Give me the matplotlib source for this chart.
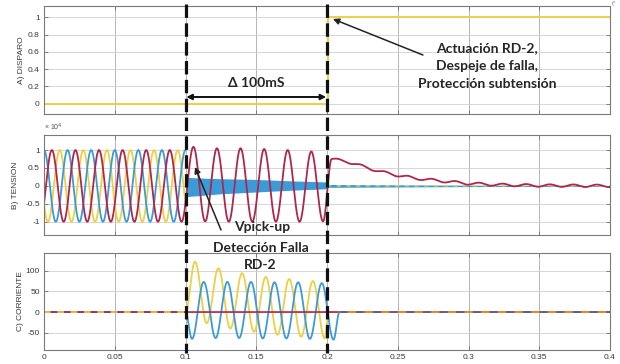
import numpy as np
import matplotlib
matplotlib.use("Agg")
import matplotlib.pyplot as plt
from matplotlib.ticker import FuncFormatter

plt.rcParams['axes.unicode_minus'] = False
plt.rcParams['font.family'] = ['Liberation Sans', 'DejaVu Sans']

# ---------------- data ----------------
FREQ = 60.0                      # Hz
T_FAULT = 0.1
T_CLEAR = 0.2
V_AMP = 1e4                      # pre-fault voltage peak
PHASE_DEG = {'blue': 0.0, 'red': -120.0, 'yellow': 120.0}

# A) trip signal
TRIP_T = [0.0, 0.201, 0.201, 0.4]
TRIP_V = [0.0, 0.0, 1.0, 1.0]

# B) red-phase voltage extrema during the fault (x1e4)
RED_V_T = [0.0972, 0.1056, 0.1139, 0.1222, 0.1306, 0.1389, 0.1472, 0.1556,
           0.1639, 0.1722, 0.1806, 0.1889, 0.1972, 0.2033]
RED_V = [-1.0, 1.09, -0.99, 1.05, -1.0, 1.05, -1.0, 1.03,
         -1.0, 1.0, -1.0, 0.96, -0.99, 0.75]
# red voltage decay after clearing (x1e4)
RED_DECAY_T = [0.2033, 0.214, 0.2257, 0.2375, 0.2493, 0.261, 0.275, 0.2987, 0.3223, 0.35, 0.4]
RED_DECAY_V = [0.75, 0.68, 0.54, 0.40, 0.30, 0.22, 0.16, 0.07, 0.03, 0.01, 0.0]
RED_RIPPLE = 0.035
# faulted blue/yellow voltage band (x1e4)
BAND_T = [0.1, 0.11, 0.125, 0.15, 0.175, 0.2]
BAND_HI = [0.24, 0.22, 0.20, 0.18, 0.14, 0.11]
BAND_LO = [-0.30, -0.27, -0.22, -0.17, -0.12, -0.08]
BAND2_T = [0.2, 0.25, 0.3, 0.35, 0.4]
BAND2_HI = [0.04, 0.03, 0.02, 0.015, 0.01]
BAND2_LO = [-0.04, -0.03, -0.02, -0.015, -0.01]

# C) fault currents (extrema)
YEL_I_T = [0.1, 0.1067, 0.115, 0.1233, 0.1317, 0.14, 0.1484, 0.1567, 0.165,
           0.1733, 0.1817, 0.19, 0.1984, 0.2012]
YEL_I = [0, 122, -27, 106, -40, 94, -48, 85, -55, 80, -60, 75, -64, 0]
BLU_I_T = [0.1, 0.1046, 0.1129, 0.1213, 0.1296, 0.1379, 0.1463, 0.1546, 0.1629,
           0.1713, 0.1796, 0.1879, 0.1963, 0.2046, 0.2088]
BLU_I = [0, -65, 73, -63, 73, -63, 73, -64, 72, -64, 72, -65, 70, -67, 0]

X_TICKS = [0, 0.05, 0.1, 0.15, 0.2, 0.25, 0.3, 0.35, 0.4]
A_TICKS = [0, 0.2, 0.4, 0.6, 0.8, 1]
B_TICKS = [-1e4, -0.5e4, 0, 0.5e4, 1e4]
C_TICKS = [-50, 0, 50, 100]

BLUE = '#3b9bd8'
RED = '#b0264c'
YEL = '#eecf45'


def halfcos(tt, kt, kv):
    kt = np.asarray(kt, float)
    kv = np.asarray(kv, float)
    i = np.clip(np.searchsorted(kt, tt, side='right') - 1, 0, len(kt) - 2)
    s = np.clip((tt - kt[i]) / (kt[i + 1] - kt[i]), 0, 1)
    return kv[i] + (kv[i + 1] - kv[i]) * (1 - np.cos(np.pi * s)) / 2


t = np.linspace(0, 0.4, 16001)
w = 2 * np.pi * FREQ

# voltages
pre = t <= T_FAULT
v_blue = V_AMP * np.cos(w * t + np.radians(PHASE_DEG['blue']))
v_yel = V_AMP * np.cos(w * t + np.radians(PHASE_DEG['yellow']))
v_red = V_AMP * np.cos(w * t + np.radians(PHASE_DEG['red']))
mid = (t >= RED_V_T[0]) & (t <= RED_V_T[-1])
v_red[mid] = V_AMP * halfcos(t[mid], RED_V_T, RED_V)
late = t > RED_V_T[-1]
v_red[late] = V_AMP * (np.interp(t[late], RED_DECAY_T, RED_DECAY_V)
                       + RED_RIPPLE * np.sin(w * (t[late] - RED_DECAY_T[0])))

tf = t[(t >= T_FAULT) & (t <= T_CLEAR)]
tc = t[t >= T_CLEAR]

# currents
i_yel = np.zeros_like(t)
i_blu = np.zeros_like(t)
i_red = np.zeros_like(t)
m = (t >= YEL_I_T[0]) & (t <= YEL_I_T[-1])
i_yel[m] = halfcos(t[m], YEL_I_T, YEL_I)
m = (t >= BLU_I_T[0]) & (t <= BLU_I_T[-1])
i_blu[m] = halfcos(t[m], BLU_I_T, BLU_I)

# ---------------- figure ----------------
W, H = 620, 364
fig = plt.figure(figsize=(W / 100, H / 100), dpi=100)
L = 44 / W
AW = 566 / W
axA = fig.add_axes([L, 1 - 114 / H, AW, 108 / H])
axB = fig.add_axes([L, 1 - 235 / H, AW, 100 / H])
axC = fig.add_axes([L, 1 - 350 / H, AW, 97 / H])


def style(ax, bottom_labels=False):
    ax.set_xlim(0, 0.4)
    ax.set_xticks(X_TICKS)
    ax.xaxis.set_major_formatter(FuncFormatter(lambda v, p: f'{v:g}'))
    ax.tick_params(direction='in', length=3, width=0.6, color='#707070',
                   labelcolor='#3a3a3a', labelsize=6, top=True, right=True, pad=3,
                   labelbottom=bottom_labels)
    for s in ax.spines.values():
        s.set_color('#7a7a7a')
        s.set_linewidth(0.8)
    ax.grid(axis='x', color='#aaaaaa', lw=0.6)
    ax.grid(axis='y', color='#d0d0d0', lw=0.6)
    ax.set_axisbelow(True)


# A
style(axA)
axA.plot(TRIP_T, TRIP_V, color=YEL, lw=1.4)
axA.set_ylim(-0.12, 1.13)
axA.set_yticks(A_TICKS)
axA.yaxis.set_major_formatter(FuncFormatter(lambda v, p: f'{v:g}'))
axA.set_ylabel('A) DISPARO', fontsize=6, color='#3a3a3a')
axA.yaxis.set_label_coords(-0.033, 0.5)

# B
style(axB)
axB.plot(t[pre], v_yel[pre], color=YEL, lw=1.3)
axB.plot(t[pre], v_blue[pre], color=BLUE, lw=1.3)
axB.fill_between(tf, V_AMP * np.interp(tf, BAND_T, BAND_LO),
                 V_AMP * np.interp(tf, BAND_T, BAND_HI), color=BLUE, lw=0)
axB.fill_between(tc, V_AMP * np.interp(tc, BAND2_T, BAND2_LO),
                 V_AMP * np.interp(tc, BAND2_T, BAND2_HI), color=BLUE, lw=0)
axB.plot(tc, np.zeros_like(tc), color=YEL, lw=1.0, ls=(0, (3, 4)))
axB.plot(t, v_red, color=RED, lw=1.3)
axB.set_ylim(-1.37e4, 1.42e4)
axB.set_yticks(B_TICKS)
axB.yaxis.set_major_formatter(FuncFormatter(lambda v, p: f'{v / 1e4:g}'))
axB.set_ylabel('B) TENSION', fontsize=6, color='#3a3a3a')
axB.yaxis.set_label_coords(-0.045, 0.5)
axB.text(0.0, 1.02, '× 10$^{4}$', transform=axB.transAxes, fontsize=5,
         color='#555555', ha='left', va='bottom')

# C
style(axC, bottom_labels=True)
axC.plot(t, i_yel, color=YEL, lw=1.3)
axC.plot(t, i_blu, color=BLUE, lw=1.3)
axC.plot(t, i_red, color=RED, lw=1.2)
pz = t <= T_FAULT
axC.plot(t[pz], i_yel[pz], color=YEL, lw=1.2, ls=(0, (4, 4)))
cz = t >= 0.2088
axC.plot(t[cz], i_red[cz], color='#e88a25', lw=1.4)
axC.plot(t[cz], i_blu[cz], color='#4a5a9a', lw=1.2, ls=(0, (5, 5)))
axC.set_ylim(-92, 143)
axC.set_yticks(C_TICKS)
axC.set_ylabel('C) CORRIENTE', fontsize=6, color='#3a3a3a')
axC.yaxis.set_label_coords(-0.036, 0.5)

# ---------------- overlay annotations (y in pixels from the top) ----------------
ov = fig.add_axes([L, 0, AW, 1], zorder=10)
ov.set_xlim(0, 0.4)
ov.set_ylim(H, 0)
ov.axis('off')

for xv in (T_FAULT, T_CLEAR):
    ov.plot([xv, xv], [4, 353], color='#111111', lw=2.3, ls=(0, (4.2, 1.7)),
            solid_capstyle='butt', dash_capstyle='butt')

ann_font = dict(family=['Lato', 'DejaVu Sans'], weight='bold', color='#262626', fontsize=10)

ov.annotate('', xy=(0.1006, 97), xytext=(0.1994, 97),
            arrowprops=dict(arrowstyle='<|-|>', color='#111111', lw=1.4,
                            mutation_scale=8, shrinkA=0, shrinkB=0))
ov.text(0.1498, 83, 'Δ 100mS', ha='center', va='center', **ann_font)

ov.annotate('', xy=(0.2042, 19), xytext=(0.2678, 55),
            arrowprops=dict(arrowstyle='-|>', color='#222222', lw=1.1,
                            mutation_scale=9, shrinkA=0, shrinkB=0))
ov.text(0.3131, 48, 'Actuación RD-2,', ha='center', va='center', **ann_font)
ov.text(0.3131, 66, 'Despeje de falla,', ha='center', va='center', **ann_font)
ov.text(0.3131, 84, 'Protección subtensión', ha='center', va='center', **ann_font)

ov.annotate('', xy=(0.1067, 167), xytext=(0.1251, 230),
            arrowprops=dict(arrowstyle='-|>', color='#222222', lw=1.1,
                            mutation_scale=9, shrinkA=0, shrinkB=0))
ov.text(0.1541, 227, 'Vpick-up', ha='center', va='center', **ann_font)
ov.text(0.1534, 248, 'Detección Falla', ha='center', va='center', **ann_font)
ov.text(0.1527, 265, 'RD-2', ha='center', va='center', **ann_font)

fig.text(612 / W, 1 - 4 / H, '(*', fontsize=4, color='#666666', ha='left', va='center')

fig.savefig('out.png', dpi=100)
